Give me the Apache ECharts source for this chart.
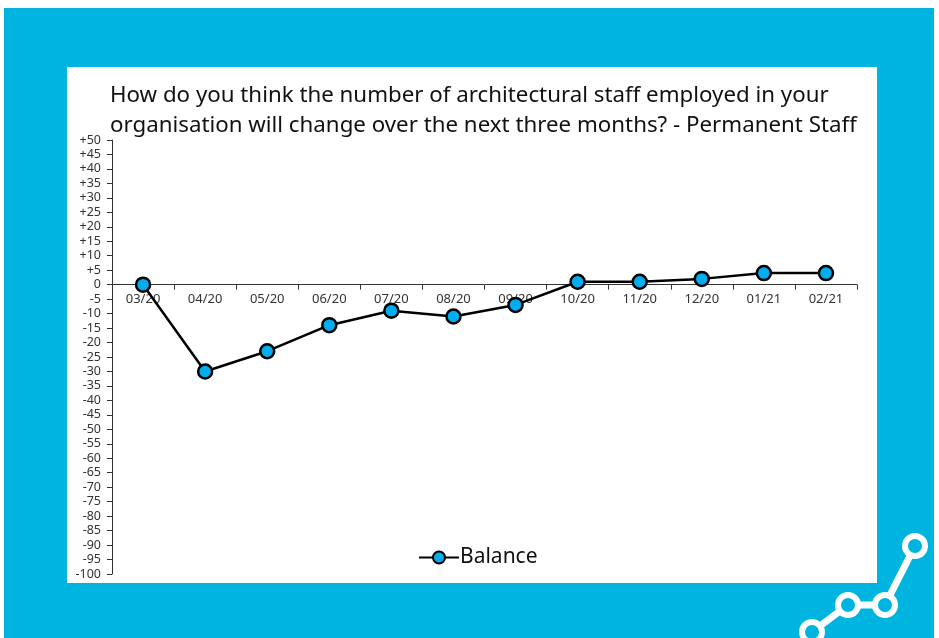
<!DOCTYPE html>
<html>
<head>
<meta charset="utf-8">
<script src="https://cdn.jsdelivr.net/npm/echarts@6/dist/echarts.min.js"></script>
<style>
html,body{margin:0;padding:0;background:#fff;}
#chart{width:939px;height:638px;}
</style>
</head>
<body>
<div id="chart"></div>
<script>
const categories = ['03/20','04/20','05/20','06/20','07/20','08/20','09/20','10/20','11/20','12/20','01/21','02/21'];
const balance = [0, -30, -23, -14, -9, -11, -7, 1, 1, 2, 4, 4];
const seriesName = 'Balance';
const titleText = 'How do you think the number of architectural staff employed in your\norganisation will change over the next three months? - Permanent Staff';
const yMin = -100, yMax = 50, yStep = 5;

const BLUE = '#00B4E0';
const gridTop = 140, gridBottom = 64, H = 638;
const gridH = H - gridTop - gridBottom;
const zeroOffset = -gridH * (0 - yMin) / (yMax - yMin);

const chart = echarts.init(document.getElementById('chart'), null, {renderer:'canvas'});
chart.setOption({
  backgroundColor: '#ffffff',
  animation: false,
  graphic: [
    {type:'rect', z:-10, shape:{x:4,y:8,width:930,height:630}, style:{fill:BLUE}},
    {type:'rect', z:-9, shape:{x:67,y:67,width:810,height:516}, style:{fill:'#ffffff'}},
    {type:'polyline', z:-8, shape:{points:[[812,632],[848,605],[885,605],[915,546]]}, style:{stroke:'#ffffff', lineWidth:7, fill:null}},
    {type:'circle', z:-7, shape:{cx:812,cy:632,r:10}, style:{fill:BLUE, stroke:'#ffffff', lineWidth:6}},
    {type:'circle', z:-7, shape:{cx:848,cy:605,r:10}, style:{fill:BLUE, stroke:'#ffffff', lineWidth:6}},
    {type:'circle', z:-7, shape:{cx:885,cy:605,r:10}, style:{fill:BLUE, stroke:'#ffffff', lineWidth:6}},
    {type:'circle', z:-7, shape:{cx:915,cy:546,r:10}, style:{fill:BLUE, stroke:'#ffffff', lineWidth:6}}
  ],
  title: {
    text: titleText,
    left: 105, top: 76,
    textStyle: {fontFamily:'Noto Sans', fontSize:22.3, fontWeight:'normal', color:'#111', lineHeight:30}
  },
  legend: {
    data:[seriesName],
    left:413, top:542,
    itemWidth:40, itemHeight:15, itemGap:4,
    textStyle:{fontFamily:'Noto Sans', fontSize:21, color:'#111', padding:[0,0,0,-4]}
  },
  grid: {left:112, right:82, top:gridTop, bottom:gridBottom, containLabel:false},
  xAxis: {
    type:'category', data: categories, boundaryGap:true,
    position:'bottom', offset: zeroOffset,
    axisLine:{onZero:false, lineStyle:{color:'#333', width:1}},
    axisTick:{show:true, alignWithLabel:false, length:5, lineStyle:{color:'#333'}},
    axisLabel:{fontFamily:'Noto Sans', fontSize:13, color:'#333', margin:8, interval:0},
    splitLine:{show:false}
  },
  yAxis: {
    type:'value', min:yMin, max:yMax, interval:yStep,
    axisLine:{show:true, lineStyle:{color:'#333', width:1}},
    axisTick:{show:true, length:5, lineStyle:{color:'#333'}},
    axisLabel:{fontFamily:'Noto Sans', fontSize:12.5, color:'#333', margin:11,
      formatter: v => v > 0 ? '+' + v : String(v)},
    splitLine:{show:false}
  },
  series: [{
    name: seriesName, type:'line', data: balance,
    symbol:'circle', symbolSize:14,
    lineStyle:{color:'#000', width:2.5},
    itemStyle:{color:'#00AEEF', borderColor:'#000', borderWidth:2.5},
    emphasis:{disabled:true}
  }]
});
</script>
</body>
</html>
